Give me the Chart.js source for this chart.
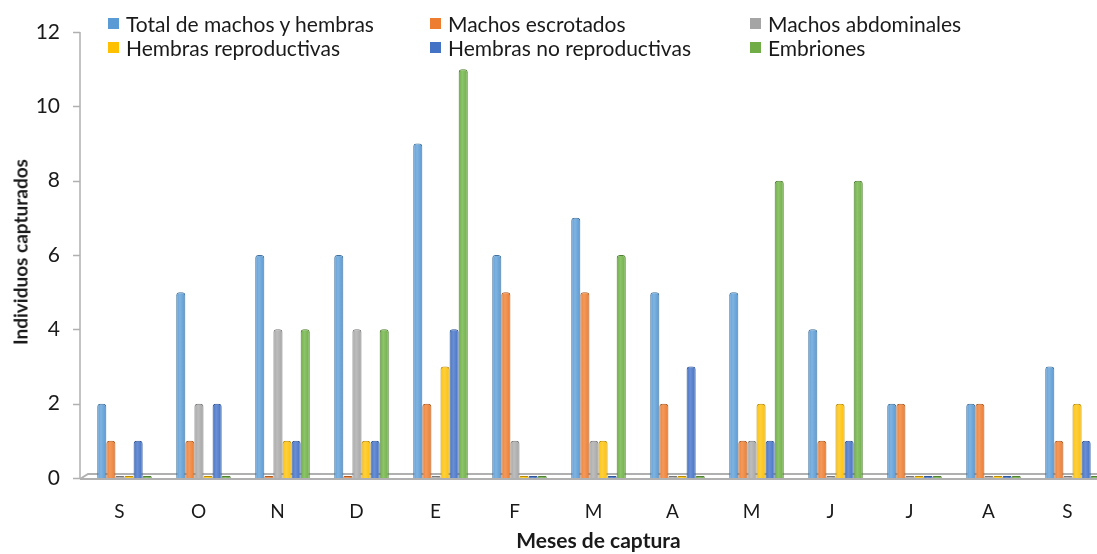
<!DOCTYPE html>
<html>
<head>
<meta charset="utf-8">
<script src="https://cdn.jsdelivr.net/npm/chart.js@4"></script>
<style>
  html, body { margin: 0; padding: 0; background: #fff; overflow: hidden; }
  #wrap { position: relative; width: 1112px; height: 554px; }
  #chart { position: absolute; left: 0; top: 0; }
  #legend {
    position: absolute; left: 108px; top: 12px;
    display: grid; grid-template-columns: 322px 320px 320px; row-gap: 1px;
    font-family: Lato, "Open Sans", sans-serif; font-size: 21px; color: #1a1a1a;
  }
  #legend div { display: flex; align-items: center; height: 23px; white-space: nowrap; }
  #legend span.box { width: 11px; height: 11px; margin-right: 7px; display: inline-block; }
  #ytitle {
    position: absolute; left: 20px; top: 252px;
    transform: translate(-50%, -50%) rotate(-90deg);
    font-family: Lato, "Open Sans", sans-serif; font-weight: bold; font-size: 19px;
    white-space: nowrap; color: #1a1a1a;
  }
</style>
</head>
<body>
<div id="wrap">
  <canvas id="chart" width="1112" height="554"></canvas>
  <div id="legend"></div>
  <div id="ytitle">Individuos capturados</div>
</div>
<script>
const months = ["S", "O", "N", "D", "E", "F", "M", "A", "M", "J", "J", "A", "S"];
const seriesNames = ["Total de machos y hembras", "Machos escrotados", "Machos abdominales",
  "Hembras reproductivas", "Hembras no reproductivas", "Embriones"];
const seriesColors = ["#5b9bd5", "#ed7d31", "#a5a5a5", "#ffc000", "#4472c4", "#70ad47"];
const lightColors = ["#7fb3e0", "#f29a5c", "#bdbdbd", "#ffd040", "#6a8fd4", "#8cc46a"];
const edgeColors = ["#41719c", "#ae5a21", "#787878", "#bc8c00", "#2f5597", "#507e32"];

const totalMH = [2, 5, 6, 6, 9, 6, 7, 5, 5, 4, 2, 2, 3];
const machosEscrotados = [1, 1, 0, 0, 2, 5, 5, 2, 1, 1, 2, 2, 1];
const machosAbdominales = [0, 2, 4, 4, 0, 1, 1, 0, 1, 0, 0, 0, 0];
const hembrasRepro = [0, 0, 1, 1, 3, 0, 1, 0, 2, 2, 0, 0, 2];
const hembrasNoRepro = [1, 2, 1, 1, 4, 0, 0, 3, 1, 1, 0, 0, 1];
const embriones = [0, 0, 4, 4, 11, 0, 6, 0, 8, 8, 0, 0, 0];
const yTicks = [0, 2, 4, 6, 8, 10, 12];

const seriesValues = [totalMH, machosEscrotados, machosAbdominales, hembrasRepro, hembrasNoRepro, embriones];
const AXIS_X = 80;
const CAT_PCT = 0.69;

// legend laid out in three columns, filled row by row
const legend = document.getElementById("legend");
seriesNames.forEach((name, i) => {
  const item = document.createElement("div");
  item.innerHTML = `<span class="box" style="background:${seriesColors[i]}"></span>${name}`;
  legend.appendChild(item);
});

// rounded shading across each bar, like a cylinder
function barFill(ctx) {
  const i = ctx.datasetIndex;
  const x = ctx.chart.scales.x;
  if (!x || ctx.type !== "data") return seriesColors[i];
  const catW = x.width / months.length;
  const barW = catW * CAT_PCT / seriesNames.length;
  const left = x.getPixelForValue(ctx.dataIndex) - catW * CAT_PCT / 2 + i * barW;
  if (!isFinite(left) || !isFinite(barW) || barW <= 0) return seriesColors[i];
  const g = ctx.chart.ctx.createLinearGradient(left, 0, left + barW, 0);
  g.addColorStop(0, seriesColors[i]);
  g.addColorStop(0.4, lightColors[i]);
  g.addColorStop(1, seriesColors[i]);
  return g;
}

// floor of the plot and the vertical axis with its tick marks
const floorPlugin = {
  id: "floor",
  beforeDatasetsDraw(chart) {
    const { ctx, chartArea } = chart;
    const y = chart.scales.y;
    const y0 = y.getPixelForValue(0);
    ctx.save();
    ctx.strokeStyle = "#b0b0b0";
    ctx.lineWidth = 2;
    ctx.beginPath();
    ctx.moveTo(AXIS_X, y0 + 1);
    ctx.lineTo(chartArea.right, y0 + 1);
    ctx.moveTo(AXIS_X, y0 + 1);
    ctx.lineTo(AXIS_X + 8, y0 - 4);
    ctx.lineTo(chartArea.right, y0 - 4);
    ctx.stroke();
    ctx.lineWidth = 1.5;
    ctx.beginPath();
    ctx.moveTo(AXIS_X, y.getPixelForValue(12));
    ctx.lineTo(AXIS_X, y0 + 1);
    yTicks.forEach(v => {
      const py = Math.round(y.getPixelForValue(v)) + 0.5;
      ctx.moveTo(AXIS_X - 7, py);
      ctx.lineTo(AXIS_X, py);
    });
    ctx.stroke();
    ctx.restore();
  }
};

const chart = new Chart(document.getElementById("chart"), {
  type: "bar",
  data: {
    labels: months,
    datasets: seriesNames.map((name, i) => ({
      label: name,
      data: seriesValues[i],
      backgroundColor: barFill,
      borderColor: edgeColors[i],
      borderWidth: 1,
      borderSkipped: "bottom",
      borderRadius: { topLeft: 3, topRight: 3 },
      minBarLength: 2,
      barPercentage: 1,
      categoryPercentage: CAT_PCT
    }))
  },
  options: {
    responsive: false,
    animation: false,
    devicePixelRatio: 1,
    layout: { padding: { top: 32, right: 0, left: 0, bottom: 0 } },
    plugins: {
      legend: { display: false },
      tooltip: { enabled: false }
    },
    scales: {
      x: {
        grid: { display: false, drawTicks: false },
        border: { display: false },
        ticks: {
          padding: 22,
          labelOffset: -5,
          color: "#1a1a1a",
          font: { family: "Lato", size: 19 }
        },
        title: {
          display: true,
          text: "Meses de captura",
          color: "#1a1a1a",
          padding: { top: 0, bottom: 0 },
          font: { family: "Lato", size: 21, weight: "bold" }
        },
        afterFit(scale) { scale.height = 76; }
      },
      y: {
        min: 0,
        max: 12,
        afterBuildTicks(scale) { scale.ticks = yTicks.map(v => ({ value: v })); },
        grid: { display: false, drawTicks: false },
        border: { display: false },
        ticks: {
          padding: 25,
          color: "#1a1a1a",
          font: { family: "Lato", size: 21 }
        },
        afterFit(scale) {
          scale.width = 85;
          scale.paddingTop = 0;
          scale.paddingBottom = 0;
        }
      }
    }
  },
  plugins: [floorPlugin]
});
// second pass so the bar shading sees the finished scale layout
chart.update();
</script>
</body>
</html>
